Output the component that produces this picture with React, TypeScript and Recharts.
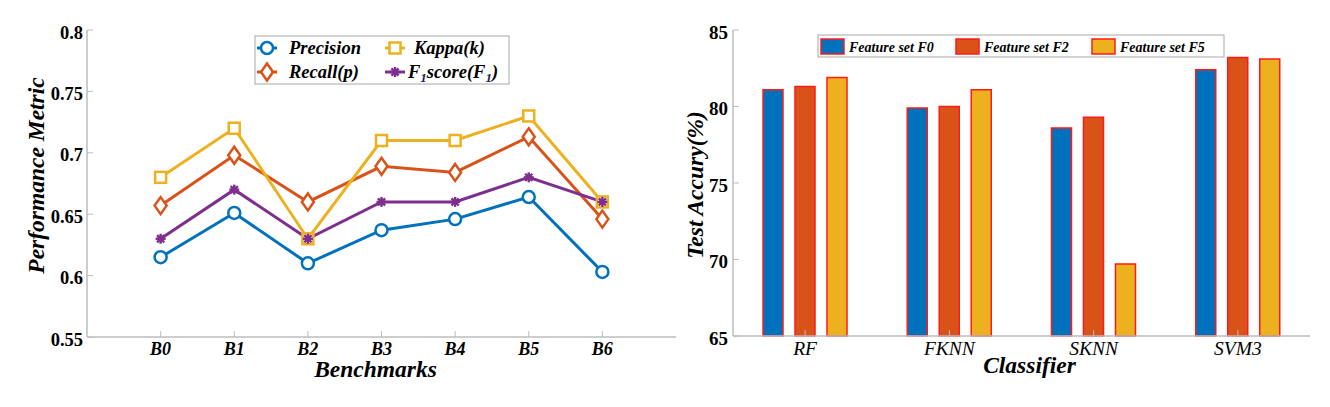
import React from "react";
import { LineChart, Line, BarChart, Bar, XAxis, YAxis, Label } from "recharts";

// left panel: performance metrics per benchmark
const benchmarks = ["B0", "B1", "B2", "B3", "B4", "B5", "B6"];
const precision = [0.615, 0.651, 0.61, 0.637, 0.646, 0.664, 0.603];
const recall = [0.657, 0.698, 0.66, 0.689, 0.684, 0.713, 0.646];
const kappa = [0.68, 0.72, 0.63, 0.71, 0.71, 0.73, 0.66];
const f1score = [0.63, 0.67, 0.63, 0.66, 0.66, 0.68, 0.66];
const metricTicks = [0.55, 0.6, 0.65, 0.7, 0.75, 0.8];

// right panel: test accuracy per classifier
const classifiers = ["RF", "FKNN", "SKNN", "SVM3"];
const featureF0 = [81.1, 79.9, 78.6, 82.4];
const featureF2 = [81.3, 80.0, 79.3, 83.2];
const featureF5 = [81.9, 81.1, 69.7, 83.1];
const accuracyTicks = [65, 70, 75, 80, 85];

const SERIF = '"Liberation Serif", "Times New Roman", serif';
const AXIS = "#bdbdbd";
const BLUE = "#0072BD";
const ORANGE = "#D95319";
const YELLOW = "#EDB120";
const PURPLE = "#7E2F8E";

const benchmarkX = benchmarks.map((_, i) => i + 1);

const metricData = benchmarks.map((name, i) => ({
  x: i + 1,
  name,
  precision: precision[i],
  recall: recall[i],
  kappa: kappa[i],
  f1: f1score[i],
}));

const accuracyData = classifiers.map((name, i) => ({
  name,
  f0: featureF0[i],
  f2: featureF2[i],
  f5: featureF5[i],
}));

type Marker = "circle" | "diamond" | "square" | "star";

const lineSeries: { key: string; name: string; color: string; marker: Marker }[] = [
  { key: "precision", name: "Precision", color: BLUE, marker: "circle" },
  { key: "recall", name: "Recall(p)", color: ORANGE, marker: "diamond" },
  { key: "kappa", name: "Kappa(k)", color: YELLOW, marker: "square" },
  { key: "f1", name: "F1score(F1)", color: PURPLE, marker: "star" },
];

const barSeries = [
  { key: "f0", name: "Feature set F0", color: "#0072BD" },
  { key: "f2", name: "Feature set F2", color: "#D95319" },
  { key: "f5", name: "Feature set F5", color: "#EDB120" },
];

function MarkerShape({ kind, cx, cy, color }: { kind: Marker; cx: number; cy: number; color: string }) {
  if (kind === "circle")
    return <circle cx={cx} cy={cy} r={6} fill="#fff" stroke={color} strokeWidth={2.5} />;
  if (kind === "diamond")
    return (
      <polygon
        points={`${cx},${cy - 8.5} ${cx + 6},${cy} ${cx},${cy + 8.5} ${cx - 6},${cy}`}
        fill="#fff"
        stroke={color}
        strokeWidth={2.5}
      />
    );
  if (kind === "square")
    return <rect x={cx - 5.5} y={cy - 5.5} width={11} height={11} fill="#fff" stroke={color} strokeWidth={2.5} />;
  return (
    <g stroke={color} strokeWidth={2.4} fill={color}>
      <line x1={cx - 5} y1={cy} x2={cx + 5} y2={cy} />
      <line x1={cx} y1={cy - 5} x2={cx} y2={cy + 5} />
      <line x1={cx - 3.6} y1={cy - 3.6} x2={cx + 3.6} y2={cy + 3.6} />
      <line x1={cx - 3.6} y1={cy + 3.6} x2={cx + 3.6} y2={cy - 3.6} />
      <circle cx={cx} cy={cy} r={3} stroke="none" />
    </g>
  );
}

const dotFor = (kind: Marker, color: string) => (p: any) => (
  <MarkerShape key={`${kind}-${p.index}`} kind={kind} cx={p.cx} cy={p.cy} color={color} />
);

function F1Label({ x, y }: { x: number; y: number }) {
  return (
    <text x={x} y={y} fontFamily={SERIF} fontSize={18.5} fontWeight="bold" fontStyle="italic" fill="#000">
      F<tspan dy={4} fontSize={13} fill="#1b1b55">1</tspan>
      <tspan dy={-4}>score(F</tspan>
      <tspan dy={4} fontSize={13} fill="#1b1b55">1</tspan>
      <tspan dy={-4}>)</tspan>
    </text>
  );
}

function MetricLegend() {
  const colX = [257, 385];
  const textX = [289, 414];
  const rowY = [48, 72];
  return (
    <g>
      <rect x={255} y={36} width={254} height={48} fill="#fff" stroke="#a8a8a8" strokeWidth={1} />
      {lineSeries.map((s, i) => {
        const col = Math.floor(i / 2);
        const row = i % 2;
        const lx = colX[col];
        const ly = rowY[row];
        return (
          <g key={s.key}>
            <line x1={lx} y1={ly} x2={lx + 20} y2={ly} stroke={s.color} strokeWidth={3} />
            <MarkerShape kind={s.marker} cx={lx + 10} cy={ly} color={s.color} />
            {s.key === "f1" ? (
              <F1Label x={textX[col] - 6} y={ly + 6} />
            ) : (
              <text
                x={textX[col]}
                y={ly + 6}
                fontFamily={SERIF}
                fontSize={18.5}
                fontWeight="bold"
                fontStyle="italic"
                fill="#000"
              >
                {s.name}
              </text>
            )}
          </g>
        );
      })}
    </g>
  );
}

function AccuracyLegend() {
  const itemX = [821, 956, 1092];
  return (
    <g>
      <rect x={818} y={35} width={406} height={22} fill="#fff" stroke="#a8a8a8" strokeWidth={1} />
      {barSeries.map((s, i) => (
        <g key={s.key}>
          <rect x={itemX[i]} y={39} width={23} height={15} fill={s.color} stroke="#ff1a1a" strokeWidth={1.5} />
          <text
            x={itemX[i] + 28}
            y={51.5}
            fontFamily={SERIF}
            fontSize={14}
            fontWeight="bold"
            fontStyle="italic"
            fill="#000"
          >
            {s.name}
          </text>
        </g>
      ))}
    </g>
  );
}

const boldTick = { fontFamily: SERIF, fontSize: 18.5, fontWeight: "bold", fill: "#000" };
const titleProps = { fontFamily: SERIF, fontSize: 23.5, fontWeight: "bold", fontStyle: "italic", fill: "#000" };

function MetricChart() {
  return (
    <LineChart width={680} height={407} data={metricData} margin={{ top: 30, right: 4, bottom: 0, left: 0 }}>
      <XAxis
        dataKey="x"
        type="number"
        domain={[0, benchmarks.length + 1]}
        ticks={benchmarkX}
        interval={0}
        tickFormatter={(v: number) => benchmarks[v - 1]}
        height={70}
        axisLine={{ stroke: AXIS, strokeWidth: 1.5 }}
        tickLine={{ stroke: AXIS }}
        tickSize={-6}
        tickMargin={11}
        tick={{ ...boldTick, fontSize: 18, fontStyle: "italic" }}
      >
        <Label value="Benchmarks" position="center" dx={-6} dy={-3} {...titleProps} />
      </XAxis>
      <XAxis
        xAxisId="top"
        orientation="top"
        dataKey="x"
        type="number"
        domain={[0, benchmarks.length + 1]}
        ticks={benchmarkX}
        interval={0}
        height={0}
        axisLine={{ stroke: AXIS, strokeWidth: 1.5 }}
        tickLine={{ stroke: AXIS }}
        tickSize={-6}
        tick={false}
      />
      <YAxis
        type="number"
        domain={[0.55, 0.8]}
        ticks={metricTicks}
        interval={0}
        width={87}
        axisLine={{ stroke: AXIS, strokeWidth: 1.5 }}
        tickLine={{ stroke: AXIS }}
        tickSize={-6}
        tickMargin={10}
        tickFormatter={(v: number) => String(v)}
        tick={{ ...boldTick, dy: 2 }}
      >
        <Label value="Performance Metric" position="center" angle={-90} dx={-8} dy={-8} {...titleProps} />
      </YAxis>
      <YAxis
        yAxisId="right"
        orientation="right"
        type="number"
        domain={[0.55, 0.8]}
        ticks={metricTicks}
        interval={0}
        width={0}
        axisLine={{ stroke: AXIS, strokeWidth: 1.5 }}
        tickLine={{ stroke: AXIS }}
        tickSize={-6}
        tick={false}
      />
      {lineSeries.map((s) => (
        <Line
          key={s.key}
          dataKey={s.key}
          type="linear"
          stroke={s.color}
          strokeWidth={3}
          dot={dotFor(s.marker, s.color)}
          activeDot={false}
          isAnimationActive={false}
        />
      ))}
    </LineChart>
  );
}

function AccuracyChart() {
  return (
    <BarChart
      width={665}
      height={407}
      data={accuracyData}
      barGap={12}
      margin={{ top: 30, right: 20, bottom: 0, left: 0 }}
    >
      <XAxis
        dataKey="name"
        height={71}
        interval={0}
        axisLine={{ stroke: AXIS, strokeWidth: 1.5 }}
        tickLine={{ stroke: AXIS }}
        tickSize={-6}
        tickMargin={11}
        tick={{ fontFamily: SERIF, fontSize: 19.5, fontStyle: "italic", fill: "#000" }}
      >
        <Label value="Classifier" position="center" dx={8} dy={-7} {...titleProps} />
      </XAxis>
      <XAxis
        xAxisId="top"
        orientation="top"
        dataKey="name"
        height={0}
        interval={0}
        axisLine={{ stroke: AXIS, strokeWidth: 1.5 }}
        tickLine={{ stroke: AXIS }}
        tickSize={-6}
        tick={false}
      />
      <YAxis
        type="number"
        domain={[65, 85]}
        ticks={accuracyTicks}
        interval={0}
        width={68}
        axisLine={{ stroke: AXIS, strokeWidth: 1.5 }}
        tickLine={{ stroke: AXIS }}
        tickSize={-6}
        tickMargin={11}
        tick={{ ...boldTick, fontSize: 19, dy: 2 }}
      >
        <Label value="Test Accury(%)" position="center" angle={-90} dx={-4} dy={2} {...titleProps} />
      </YAxis>
      <YAxis
        yAxisId="right"
        orientation="right"
        type="number"
        domain={[65, 85]}
        ticks={accuracyTicks}
        interval={0}
        width={0}
        axisLine={{ stroke: AXIS, strokeWidth: 1.5 }}
        tickLine={{ stroke: AXIS }}
        tickSize={-6}
        tick={false}
      />
      {barSeries.map((s) => (
        <Bar
          key={s.key}
          dataKey={s.key}
          fill={s.color}
          stroke="#ff1a1a"
          strokeWidth={1.5}
          barSize={20}
          isAnimationActive={false}
        />
      ))}
    </BarChart>
  );
}

export default function App() {
  return (
    <div style={{ position: "absolute", left: 0, top: 0, width: 1330, height: 407, background: "#fff" }}>
      <div style={{ position: "absolute", left: 0, top: 0 }}>
        <MetricChart />
      </div>
      <div style={{ position: "absolute", left: 665, top: 0 }}>
        <AccuracyChart />
      </div>
      <svg
        width={1330}
        height={407}
        style={{ position: "absolute", left: 0, top: 0, pointerEvents: "none" }}
      >
        <MetricLegend />
        <AccuracyLegend />
      </svg>
    </div>
  );
}
